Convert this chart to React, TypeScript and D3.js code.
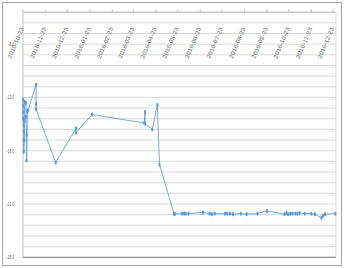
import React from "react";
import * as d3 from "d3";

const dates: string[] = [
  "2015-10-23", "2015-10-23", "2015-10-23", "2015-10-23", "2015-10-24", "2015-10-24", "2015-10-24", "2015-10-24",
  "2015-10-25", "2015-10-25", "2015-10-25", "2015-10-27", "2015-10-27", "2015-10-28", "2015-10-28", "2015-10-29",
  "2015-10-30", "2015-11-10", "2015-11-10", "2015-11-10", "2015-12-07", "2016-01-04", "2016-01-04", "2016-01-26",
  "2016-04-07", "2016-04-08", "2016-04-08", "2016-04-18", "2016-04-25", "2016-04-28", "2016-05-18", "2016-05-19",
  "2016-05-29", "2016-06-01", "2016-06-03", "2016-06-07", "2016-06-27", "2016-07-06", "2016-07-09", "2016-07-13",
  "2016-07-27", "2016-07-30", "2016-08-03", "2016-08-07", "2016-08-18", "2016-08-26", "2016-09-10", "2016-09-23",
  "2016-10-17", "2016-10-20", "2016-10-22", "2016-10-25", "2016-10-28", "2016-11-01", "2016-11-04", "2016-11-07",
  "2016-11-14", "2016-11-23", "2016-11-28", "2016-12-07", "2016-12-09", "2016-12-12", "2016-12-26",
];
const values: number[] = [
  -13.2, -13.8, -14.4, -15.0, -15.6, -16.2, -17.0, -18.1,
  -17.0, -15.2, -13.4, -13.5, -14.8, -16.5, -18.9, -14.3,
  -14.2, -11.8, -13.6, -14.1, -19.1, -15.9, -16.3, -14.6,
  -15.4, -14.35, -15.45, -16.0, -13.7, -19.3, -23.93, -23.93,
  -23.9, -23.9, -23.9, -23.9, -23.8, -23.9, -23.95, -23.9,
  -23.9, -23.9, -23.9, -23.95, -23.9, -23.95, -23.9, -23.65,
  -23.95, -23.85, -23.95, -23.9, -23.9, -23.9, -23.9, -23.85,
  -23.9, -23.9, -23.95, -24.3, -24.1, -23.95, -23.9,
];
const xTickLabels: string[] = [
  "2015-10-23", "2015-11-23", "2015-12-23", "2016-01-23", "2016-02-23", "2016-03-23", "2016-04-23", "2016-05-23",
  "2016-06-23", "2016-07-23", "2016-08-23", "2016-09-23", "2016-10-23", "2016-11-23", "2016-12-23",
];
const yTickLabels: number[] = [-8, -13, -18, -23, -28];
const yDomain: [number, number] = [-28, -5];
const xDomain: string[] = ["2015-10-23", "2016-12-27"];

export default function App() {
  const W = 345, H = 268;
  const left = 23, right = 336, top = 12.2, bottom = 257.3;
  const parse = d3.utcParse("%Y-%m-%d");
  const x = d3.scaleUtc().domain(xDomain.map((s) => parse(s) as Date)).range([left, right]);
  const y = d3.scaleLinear().domain(yDomain).range([bottom, top]);
  const pts = dates.map((d, i) => [x(parse(d) as Date), y(values[i])] as [number, number]);
  const line = d3.line()(pts) || "";
  const grid = d3.range(yDomain[0], yDomain[1] + 0.001, 1);
  const color = "#5b9bd5";
  const ang = 67;
  const len = 33;
  const rad = (ang * Math.PI) / 180;
  return (
    <svg width={W} height={H} style={{ position: "fixed", left: 0, top: 0, background: "#fff" }}>
      <rect x={2.5} y={2.5} width={339} height={263} fill="#fff" stroke="#a6a6a6" strokeWidth={1} />
      {grid.map((g) => (
        <line key={g} x1={left} x2={right} y1={y(g)} y2={y(g)} stroke="#d9d9d9" strokeWidth={1} />
      ))}
      <line x1={left} x2={right} y1={top} y2={top} stroke="#bfbfbf" strokeWidth={1} />
      <line x1={right} x2={right} y1={top} y2={bottom} stroke="#d9d9d9" strokeWidth={1} />
      <line x1={left} x2={left} y1={top} y2={bottom} stroke="#bfbfbf" strokeWidth={1} />
      <line x1={left} x2={right} y1={bottom} y2={bottom} stroke="#808080" strokeWidth={1} />
      {xTickLabels.map((t) => {
        const tx = x(parse(t) as Date);
        const sx = tx + 1 - len * Math.cos(rad);
        const sy = 28.5 + len * Math.sin(rad);
        return (
          <g key={t}>
            <line x1={tx} x2={tx} y1={top} y2={top - 3} stroke="#bfbfbf" />
            <text
              transform={`translate(${sx},${sy}) rotate(${-ang})`}
              textAnchor="start"
              fontSize={5.8}
              fontFamily="Liberation Sans, Arial, sans-serif"
              fill="#666666"
              textLength={len}
              lengthAdjust="spacingAndGlyphs"
            >
              {t}
            </text>
          </g>
        );
      })}
      {yTickLabels.map((v) => {
        const tl = v <= -10 ? 7.5 : 6;
        return (
          <text
            key={v}
            x={14 - tl}
            y={y(v) + 2}
            textAnchor="start"
            fontSize={6}
            fontFamily="Liberation Sans, Arial, sans-serif"
            fill="#595959"
            textLength={tl}
            lengthAdjust="spacingAndGlyphs"
          >
            {v.toFixed(1)}
          </text>
        );
      })}
      <path d={line} fill="none" stroke={color} strokeWidth={1} strokeOpacity={0.85} />
      {pts.map((p, i) => (
        <ellipse key={i} cx={p[0]} cy={p[1]} rx={1.1} ry={2.2} fill={color} />
      ))}
    </svg>
  );
}
